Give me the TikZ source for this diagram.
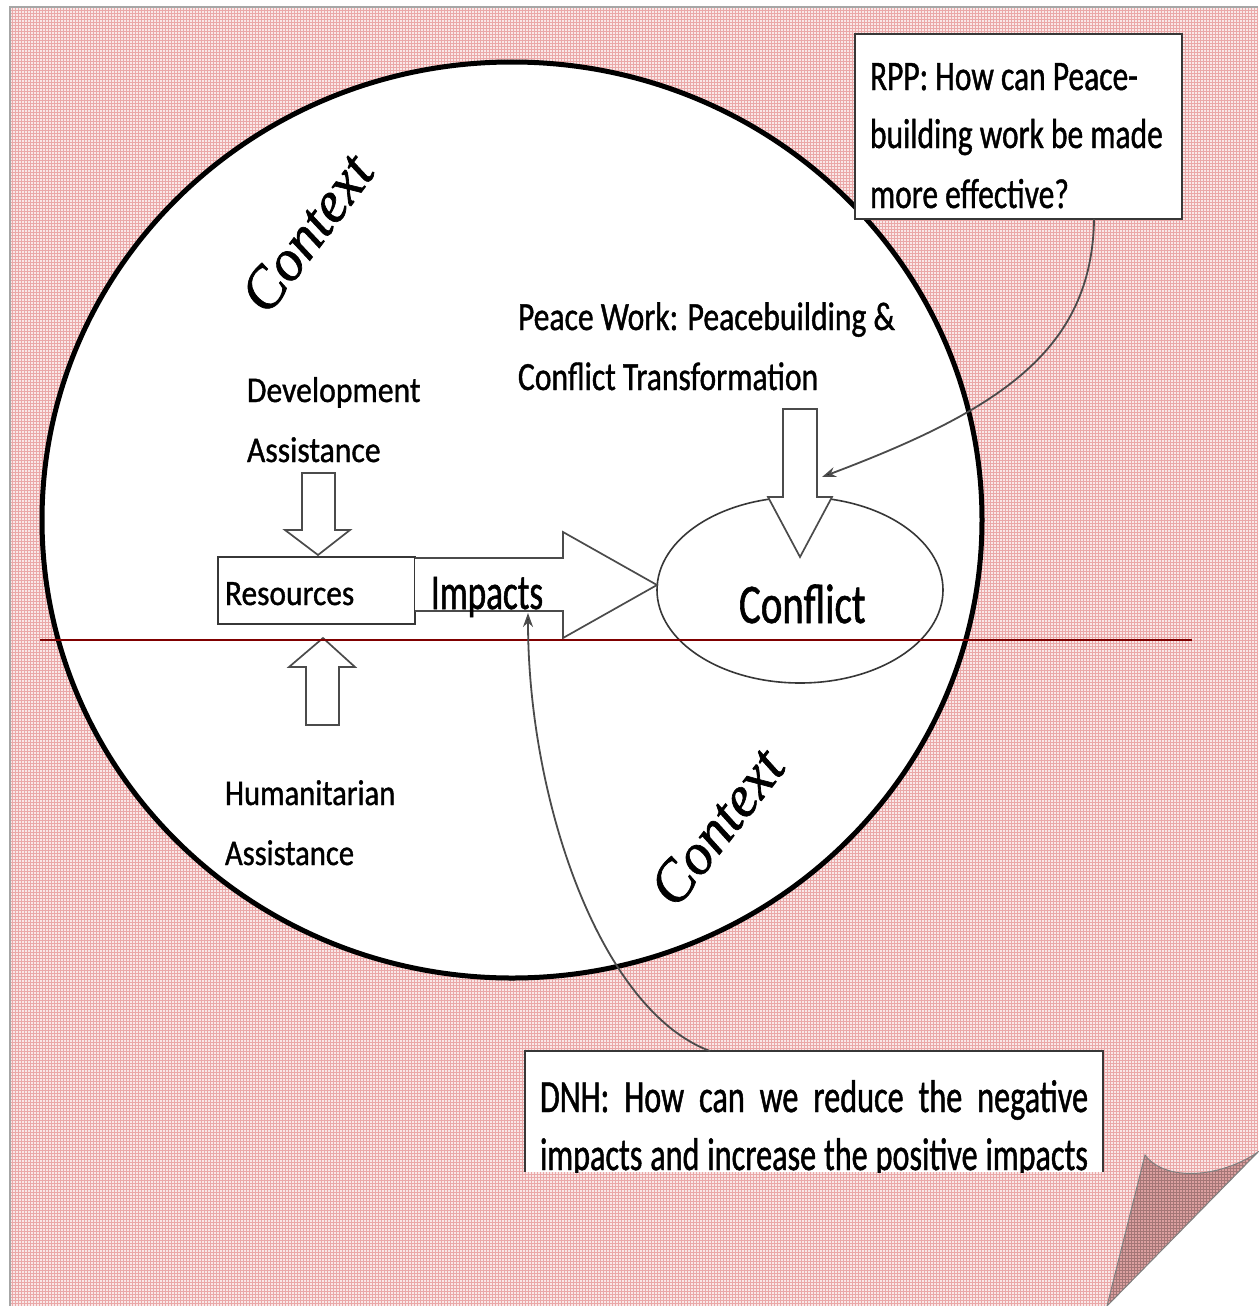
\documentclass[tikz,border=0pt]{standalone}
\usepackage{fontspec}
\usetikzlibrary{arrows.meta,shapes.geometric,calc,patterns}
\newfontfamily\fDev[FakeStretch=0.88,FakeBold=1]{Carlito}
\newfontfamily\fHum[FakeStretch=0.85,FakeBold=1]{Carlito}
\newfontfamily\fRes[FakeStretch=0.88,FakeBold=1]{Carlito}
\newfontfamily\fPeace[FakeStretch=0.79,FakeBold=1]{Carlito}
\newfontfamily\fCond[FakeStretch=0.75,FakeBold=1]{Carlito}
\newfontfamily\fImp[FakeStretch=0.70,FakeBold=1]{Carlito}
\newfontfamily\fConf[FakeStretch=0.73,FakeBold=1]{Carlito}
\newfontfamily\fCtx[FakeBold=1.2]{Liberation Serif}
\definecolor{pagebase}{RGB}{249,232,232}
\definecolor{gridcol}{RGB}{234,168,168}
\definecolor{flapcol}{RGB}{218,160,160}
\definecolor{boxgray}{RGB}{55,55,55}
\definecolor{arrowgray}{RGB}{75,75,75}
\definecolor{redline}{RGB}{128,0,0}
\begin{document}
\begin{tikzpicture}[x=1pt,y=-1pt,
  txt/.style={anchor=base west, inner sep=0pt, outer sep=0pt},
  boxnode/.style={draw=boxgray, fill=white, line width=2pt, inner sep=0pt, outer sep=0pt},
  blockarrow/.style={draw=arrowgray, fill=white, line width=1.7pt, line join=miter},
  callout/.style={draw=arrowgray, line width=1.8pt, -{Stealth[length=14pt,width=10pt,fill=black]}},
  ctxlabel/.style={inner sep=0pt, font=\fCtx\itshape\fontsize{58}{60}\selectfont}]
\useasboundingbox (0,0) rectangle (1258,1306);
\fill[white] (0,0) rectangle (1258,1306);
% page with grid texture
\fill[pagebase] (10,7) -- (1258,7) -- (1258,1152) -- (1107,1306) -- (10,1306) -- cycle;
\fill[pattern=grid, pattern color=gridcol] (10,7) -- (1258,7) -- (1258,1152) -- (1107,1306) -- (10,1306) -- cycle;
\draw[gray!70, line width=1.2pt] (10,1306) -- (10,7) -- (1258,7);
% page curl
\fill[flapcol] (1107,1306) -- (1145,1155) .. controls (1165,1182) and (1220,1178) .. (1258,1152) -- cycle;
\fill[pattern=grid, pattern color=gridcol!70!black] (1107,1306) -- (1145,1155) .. controls (1165,1182) and (1220,1178) .. (1258,1152) -- cycle;
\draw[gray, line width=1pt] (1107,1306) -- (1145,1155) .. controls (1165,1182) and (1220,1178) .. (1258,1152) -- cycle;
% big context circle
\draw[line width=5pt, fill=white] (512,520) ellipse [x radius=470, y radius=458];
% context labels
\node[ctxlabel, rotate=53] (ctx1) at (307,233) {Context};
\node[ctxlabel, rotate=52] (ctx2) at (717,827) {Context};
% RPP box
\node[boxnode, minimum width=327pt, minimum height=185pt] (rpp) at (1018.5,126.5) {};
\node[txt, font=\fCond\fontsize{42}{50}\selectfont] (rpp1) at (870,90) {RPP: How can Peace-};
\node[txt, font=\fCond\fontsize{42}{50}\selectfont] (rpp2) at (870,148) {building work be made};
\node[txt, font=\fCond\fontsize{42}{50}\selectfont] (rpp3) at (870,208) {more effective?};
% Development
\node[txt, font=\fDev\fontsize{36}{40}\selectfont] (dev1) at (247,402) {Development};
\node[txt, font=\fDev\fontsize{36}{40}\selectfont] (dev2) at (247,462) {Assistance};
% Humanitarian
\node[txt, font=\fHum\fontsize{36}{42}\selectfont] (hum1) at (225,805) {Humanitarian};
\node[txt, font=\fHum\fontsize{36}{42}\selectfont] (hum2) at (225,865) {Assistance};
% Peace work
\node[txt, font=\fPeace\fontsize{40}{46}\selectfont] (pw1) at (518,330) {Peace Work: Peacebuilding \&};
\node[txt, font=\fPeace\fontsize{40}{46}\selectfont] (pw2) at (518,390) {Conflict Transformation};
% Conflict ellipse
\node[draw=boxgray, line width=1.6pt, ellipse, minimum width=286pt, minimum height=186pt, inner sep=0pt] (conf) at (800,590) {};
% block arrows
\draw[blockarrow] (302,473) -- (335,473) -- (335,530) -- (350,530) -- (318,555) -- (285,530) -- (302,530) -- cycle;
\draw[blockarrow] (306,725) -- (339,725) -- (339,667) -- (355,667) -- (323,638) -- (289,667) -- (306,667) -- cycle;
\draw[blockarrow] (783,409) -- (817,409) -- (817,497) -- (832,497) -- (800,557) -- (768,497) -- (783,497) -- cycle;
% resources box
\node[boxnode, line width=1.8pt, minimum width=197pt, minimum height=67pt] (res) at (316.5,590.5) {};
\node[txt, font=\fRes\fontsize{35.7}{40}\selectfont] (reslbl) at (225,605) {Resources};
\draw[blockarrow] (res.east |- 0,558) -- (563,558) -- (563,532) -- (657,585) -- (563,638) -- (563,611) -- (res.east |- 0,611);
\node[txt, font=\fImp\fontsize{50}{56}\selectfont] (imp) at (431,609) {Impacts};
\node[txt, font=\fConf\fontsize{56}{60}\selectfont] (conflbl) at (739,623) {Conflict};
% DNH box (bottom clipped)
\node[fill=white, inner sep=0pt, outer sep=0pt, minimum width=578pt, minimum height=121pt] (dnh) at (814,1111.5) {};
\begin{scope}
  \clip (dnh.south west) rectangle (dnh.north east);
  \node[txt, font=\fImp\fontsize{46}{52}\selectfont] (dnh1) at (540,1112) {\makebox[548pt][s]{DNH: How can we reduce the negative}};
  \node[txt, font=\fImp\fontsize{46}{52}\selectfont] (dnh2) at (540,1170) {\makebox[548pt][s]{impacts and increase the positive impacts}};
\end{scope}
\draw[boxgray, line width=2pt] (dnh.south west) -- (dnh.north west) -- (dnh.north east) -- (dnh.south east);
% red line
\draw[redline, line width=2pt] (40,640) -- (1192,640);
% callouts
\coordinate (rpptip) at (822,477);
\coordinate (dnhtip) at (528,613);
\draw[callout] ($(rpp.south west)!0.731!(rpp.south east)$) .. controls (1092,350) and (1000,410) .. (rpptip);
\draw[callout] ($(dnh.north west)!0.32!(dnh.north east)$) .. controls (600,1010) and (528,800) .. (dnhtip);
\end{tikzpicture}
\end{document}
